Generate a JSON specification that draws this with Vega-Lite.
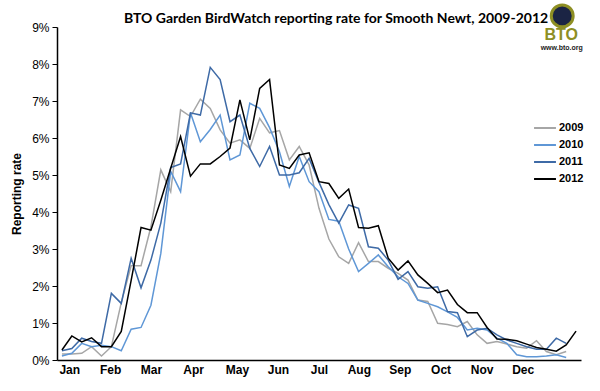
{
  "$schema": "https://vega.github.io/schema/vega-lite/v6.json",
  "width": 524,
  "height": 333,
  "autosize": {"type": "none"},
  "padding": {"left": 57, "top": 27, "right": 19, "bottom": 31},
  "background": "white",
  "config": {"view": {"stroke": null}},
  "title": {
    "text": "BTO Garden BirdWatch reporting rate for Smooth Newt, 2009-2012",
    "font": "Lato",
    "fontSize": 14,
    "fontWeight": "bold",
    "color": "black",
    "anchor": "middle",
    "frame": "group",
    "dx": 17,
    "dy": 33,
    "offset": 6
  },
  "encoding": {
    "x": {
      "field": "week",
      "type": "quantitative",
      "scale": {"domain": [0.5, 53.5], "nice": false, "zero": false},
      "axis": {
        "title": null,
        "grid": false,
        "ticks": false,
        "labelOverlap": false,
        "values": [1.74, 5.88, 10.0, 14.26, 18.7, 22.85, 27.0, 31.03, 35.17, 39.3, 43.45, 47.6],
        "labelExpr": "['Jan','Feb','Mar','Apr','May','Jun','Jul','Aug','Sep','Oct','Nov','Dec'][round((datum.value - 1.74) / 4.15)]",
        "labelFont": "Liberation Sans",
        "labelFontSize": 12,
        "labelFontWeight": "bold",
        "labelColor": "black",
        "labelPadding": 4,
        "domainColor": "black",
        "domainWidth": 1.5
      }
    },
    "y": {
      "field": "rate",
      "type": "quantitative",
      "scale": {"domain": [0, 9], "nice": false, "zero": true},
      "axis": {
        "title": "Reporting rate",
        "titleFont": "Liberation Sans",
        "titleFontSize": 12,
        "titleFontWeight": "bold",
        "titleColor": "black",
        "titlePadding": 8,
        "values": [0, 1, 2, 3, 4, 5, 6, 7, 8, 9],
        "labelOverlap": false,
        "labelFlush": false,
        "labelExpr": "datum.value + '%'",
        "grid": false,
        "tickSize": 5,
        "tickColor": "black",
        "tickWidth": 1,
        "labelFont": "Liberation Sans",
        "labelFontSize": 12,
        "labelColor": "black",
        "labelPadding": 3,
        "domainColor": "black",
        "domainWidth": 1.5
      }
    }
  },
  "layer": [
    {
      "data": {
        "values": [
          {"week": 1, "2009": 0.16, "2010": 0.11, "2011": 0.25, "2012": 0.27},
          {"week": 2, "2009": 0.16, "2010": 0.18, "2011": 0.31, "2012": 0.65},
          {"week": 3, "2009": 0.18, "2010": 0.45, "2011": 0.59, "2012": 0.49},
          {"week": 4, "2009": 0.36, "2010": 0.36, "2011": 0.50, "2012": 0.60},
          {"week": 5, "2009": 0.11, "2010": 0.40, "2011": 0.45, "2012": 0.36},
          {"week": 6, "2009": 0.36, "2010": 0.36, "2011": 1.80, "2012": 0.36},
          {"week": 7, "2009": 1.55, "2010": 0.25, "2011": 1.53, "2012": 0.77},
          {"week": 8, "2009": 2.55, "2010": 0.83, "2011": 2.75, "2012": 2.15},
          {"week": 9, "2009": 2.55, "2010": 0.88, "2011": 1.95, "2012": 3.58},
          {"week": 10, "2009": 3.60, "2010": 1.48, "2011": 2.70, "2012": 3.51},
          {"week": 11, "2009": 5.14, "2010": 2.88, "2011": 3.70, "2012": 4.32},
          {"week": 12, "2009": 4.55, "2010": 5.10, "2011": 5.20, "2012": 5.18},
          {"week": 13, "2009": 6.76, "2010": 4.55, "2011": 5.30, "2012": 6.04},
          {"week": 14, "2009": 6.58, "2010": 6.68, "2011": 6.68, "2012": 4.97},
          {"week": 15, "2009": 7.05, "2010": 5.90, "2011": 6.62, "2012": 5.30},
          {"week": 16, "2009": 6.80, "2010": 6.23, "2011": 7.91, "2012": 5.30},
          {"week": 17, "2009": 6.22, "2010": 6.62, "2011": 7.58, "2012": 5.50},
          {"week": 18, "2009": 5.86, "2010": 5.41, "2011": 6.44, "2012": 5.73},
          {"week": 19, "2009": 5.95, "2010": 5.54, "2011": 6.62, "2012": 7.03},
          {"week": 20, "2009": 5.72, "2010": 6.94, "2011": 5.72, "2012": 5.95},
          {"week": 21, "2009": 6.53, "2010": 6.80, "2011": 5.23, "2012": 7.34},
          {"week": 22, "2009": 6.14, "2010": 6.28, "2011": 5.77, "2012": 7.58},
          {"week": 23, "2009": 6.20, "2010": 5.63, "2011": 5.00, "2012": 5.27},
          {"week": 24, "2009": 5.41, "2010": 4.69, "2011": 5.00, "2012": 5.18},
          {"week": 25, "2009": 5.77, "2010": 5.50, "2011": 5.06, "2012": 5.54},
          {"week": 26, "2009": 5.27, "2010": 4.82, "2011": 5.45, "2012": 5.60},
          {"week": 27, "2009": 4.10, "2010": 4.55, "2011": 4.80, "2012": 4.82},
          {"week": 28, "2009": 3.27, "2010": 3.80, "2011": 4.20, "2012": 4.77},
          {"week": 29, "2009": 2.79, "2010": 3.75, "2011": 3.70, "2012": 4.37},
          {"week": 30, "2009": 2.61, "2010": 3.00, "2011": 4.19, "2012": 4.62},
          {"week": 31, "2009": 3.17, "2010": 2.39, "2011": 4.10, "2012": 3.58},
          {"week": 32, "2009": 2.66, "2010": 2.61, "2011": 3.06, "2012": 3.56},
          {"week": 33, "2009": 2.66, "2010": 2.84, "2011": 3.02, "2012": 3.63},
          {"week": 34, "2009": 2.48, "2010": 2.52, "2011": 2.70, "2012": 2.75},
          {"week": 35, "2009": 2.34, "2010": 2.25, "2011": 2.18, "2012": 2.43},
          {"week": 36, "2009": 2.16, "2010": 2.07, "2011": 2.39, "2012": 2.68},
          {"week": 37, "2009": 1.62, "2010": 1.62, "2011": 1.98, "2012": 2.30},
          {"week": 38, "2009": 1.58, "2010": 1.53, "2011": 1.94, "2012": 2.07},
          {"week": 39, "2009": 0.99, "2010": 1.44, "2011": 1.98, "2012": 1.82},
          {"week": 40, "2009": 0.96, "2010": 1.30, "2011": 1.31, "2012": 1.89},
          {"week": 41, "2009": 0.90, "2010": 1.15, "2011": 1.28, "2012": 1.50},
          {"week": 42, "2009": 1.04, "2010": 0.81, "2011": 0.63, "2012": 1.28},
          {"week": 43, "2009": 0.68, "2010": 0.86, "2011": 0.81, "2012": 1.28},
          {"week": 44, "2009": 0.45, "2010": 0.81, "2011": 0.86, "2012": 0.88},
          {"week": 45, "2009": 0.50, "2010": 0.59, "2011": 0.68, "2012": 0.57},
          {"week": 46, "2009": 0.43, "2010": 0.45, "2011": 0.54, "2012": 0.56},
          {"week": 47, "2009": 0.36, "2010": 0.14, "2011": 0.45, "2012": 0.52},
          {"week": 48, "2009": 0.32, "2010": 0.09, "2011": 0.36, "2012": 0.43},
          {"week": 49, "2009": 0.52, "2010": 0.09, "2011": 0.29, "2012": 0.34},
          {"week": 50, "2009": 0.23, "2010": 0.11, "2011": 0.29, "2012": 0.29},
          {"week": 51, "2009": 0.14, "2010": 0.14, "2011": 0.59, "2012": 0.24},
          {"week": 52, "2009": 0.23, "2010": 0.07, "2011": 0.45, "2012": 0.41},
          {"week": 53, "2012": 0.78}
        ]
      },
      "transform": [
        {"fold": ["2009", "2010", "2011", "2012"], "as": ["year", "rate"]},
        {"filter": "isValid(datum.rate)"}
      ],
      "mark": {"type": "line", "strokeWidth": 1.5},
      "encoding": {
        "color": {
          "field": "year",
          "type": "nominal",
          "scale": {
            "domain": ["2009", "2010", "2011", "2012"],
            "range": ["#A6A6A6", "#5F97D6", "#3E6AA6", "#000000"]
          },
          "legend": {
            "title": null,
            "orient": "none",
            "legendX": 476,
            "legendY": 89,
            "symbolType": "stroke",
            "symbolSize": 480,
            "symbolStrokeWidth": 2,
            "labelFont": "Liberation Sans",
            "labelFontSize": 11,
            "labelFontWeight": "bold",
            "labelColor": "black",
            "labelOffset": 2,
            "rowPadding": 0
          }
        }
      }
    },
    {
      "data": {"values": [{"week": 51.6, "rate": 9.3}]},
      "mark": {"type": "point", "shape": "circle", "size": 480, "filled": true, "fill": "#1B2444", "stroke": "#8E8F24", "strokeWidth": 3, "opacity": 1}
    },
    {
      "data": {
        "values": [
          {"week": 51.5, "rate": 8.78, "label": "BTO", "part": "name"},
          {"week": 51.55, "rate": 8.42, "label": "www.bto.org", "part": "url"}
        ]
      },
      "mark": {"type": "text", "font": "Liberation Sans", "fontWeight": "bold", "align": "center", "baseline": "middle"},
      "encoding": {
        "text": {"field": "label"},
        "size": {"field": "part", "type": "nominal", "scale": {"domain": ["name", "url"], "range": [16, 7]}, "legend": null},
        "color": {"field": "part", "type": "nominal", "scale": {"domain": ["name", "url"], "range": ["#8E8F24", "#222222"]}, "legend": null}
      }
    }
  ],
  "resolve": {"scale": {"color": "independent", "size": "independent"}}
}
